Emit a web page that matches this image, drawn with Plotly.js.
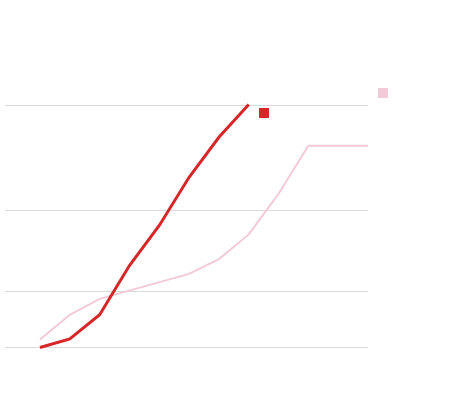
<!DOCTYPE html>
<html>
<head>
<meta charset="utf-8">
<script src="https://cdn.plot.ly/plotly-3.0.1.min.js"></script>
<style>html,body{margin:0;padding:0;background:#fff;}#chart{width:460px;height:400px;}</style>
</head>
<body>
<div id="chart"></div>
<script>
// Data (arbitrary units; no labels visible)
const periods = [0, 1, 2, 3, 4, 5, 6, 7, 8, 9, 10, 11];
const seriesA = [0, 3.1, 11.7, 29.3, 43.6, 60.8, 75.1, 86.8]; // bold red
const seriesB = [2.9, 11.7, 17.4, 20.4, 23.3, 26.3, 31.6, 40.4, 54.9, 72.1, 72.1, 72.1]; // light pink
const gridVals = [0, 20, 49, 86.4];

const traces = [
  {
    x: periods.slice(0, seriesB.length), y: seriesB, type: 'scatter', mode: 'lines',
    line: {color: '#f2cad8', width: 2}, hoverinfo: 'skip', showlegend: false
  },
  {
    x: periods.slice(0, seriesA.length), y: seriesA, type: 'scatter', mode: 'lines',
    line: {color: '#d62728', width: 3}, hoverinfo: 'skip', showlegend: false
  }
];

const layout = {
  width: 460, height: 400,
  margin: {l: 5, r: 92, t: 80, b: 20},
  paper_bgcolor: '#ffffff', plot_bgcolor: '#ffffff',
  showlegend: false,
  xaxis: {range: [-1.174, 11.0], showgrid: false, zeroline: false, showticklabels: false, showline: false, ticks: ''},
  yaxis: {range: [-11.6, 95.55], tickvals: gridVals, showticklabels: false, gridcolor: '#d9d9d9', gridwidth: 1, zeroline: false, showline: false, ticks: ''},
  shapes: [
    {type: 'rect', xref: 'paper', yref: 'paper', x0: 0.6997, x1: 0.7273, y0: 0.8733, y1: 0.9067, fillcolor: '#d62728', line: {width: 0}},
    {type: 'rect', xref: 'paper', yref: 'paper', x0: 1.0275, x1: 1.0551, y0: 0.94, y1: 0.9733, fillcolor: '#f2cad8', line: {width: 0}}
  ]
};

Plotly.newPlot('chart', traces, layout, {displayModeBar: false, staticPlot: true});
</script>
</body>
</html>
